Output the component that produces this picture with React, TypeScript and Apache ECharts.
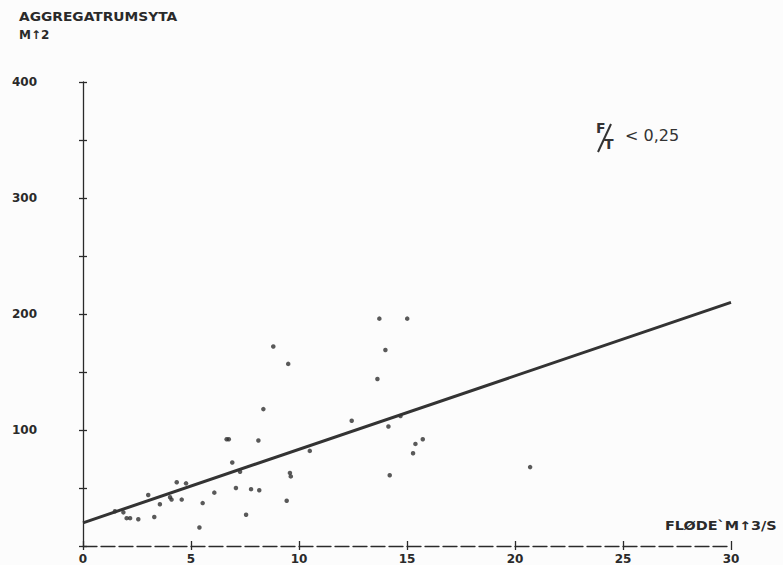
import React, { useEffect, useRef } from "react";
import * as echarts from "echarts";

// Scatter points: flow (m^3/s) vs aggregate room area (m^2)
const flowValues = [
  1.48, 1.87, 2.02, 2.18, 2.56, 3.02, 3.3, 3.56, 4.03, 4.1, 4.34, 4.57, 4.77,
  5.39, 5.54, 6.08, 6.65, 6.75, 6.91, 7.08, 7.27, 7.55, 7.78, 8.12, 8.16, 8.35,
  8.81, 9.43, 9.5, 9.58, 9.62, 10.5, 12.44, 13.63, 13.72, 14.0, 14.14, 14.2,
  14.7, 15.01, 15.28, 15.39, 15.73, 20.7,
];
const areaValues = [
  30, 29, 24, 24, 23, 44, 25, 36, 42, 40, 55, 40, 54,
  16, 37, 46, 92, 92, 72, 50, 64, 27, 49, 91, 48, 118,
  172, 39, 157, 63, 60, 82, 108, 144, 196, 169, 103, 61,
  112, 196, 80, 88, 92, 68,
];

// Regression line end points
const lineX = [0, 30];
const lineY = [20, 210];

// Axis ticks / labels
const xTickLabels = [0, 5, 10, 15, 20, 25, 30];
const yTickLabels = [100, 200, 300, 400];

const INK = "#2a2a2a";
const FONT = "DejaVu Sans";

export default function App() {
  const ref = useRef<HTMLDivElement>(null);

  useEffect(() => {
    if (!ref.current) return;
    const chart = echarts.init(ref.current, undefined, { renderer: "svg" });

    const scatterData = flowValues.map((x, i) => [x, areaValues[i]]);
    const lineData = lineX.map((x, i) => [x, lineY[i]]);

    const grid = { left: 83, right: 52, top: 82, bottom: 19, containLabel: false };

    chart.setOption({
      animation: false,
      backgroundColor: "#fcfcfc",
      grid,
      xAxis: [
        {
          type: "value",
          min: 0,
          max: 30,
          interval: 5,
          position: "bottom",
          splitLine: { show: false },
          axisLine: { show: true, lineStyle: { color: INK, width: 1.3, type: [14, 4] } },
          axisTick: { show: true, inside: false, length: 4, lineStyle: { color: INK, width: 1.3 } },
          axisLabel: {
            show: true,
            margin: 7,
            color: INK,
            fontFamily: FONT,
            fontWeight: "bold",
            fontSize: 12,
            formatter: (v: number) => (xTickLabels.includes(v) ? String(v) : ""),
          },
        },
        {
          type: "value",
          min: 0,
          max: 30,
          interval: 5,
          position: "bottom",
          splitLine: { show: false },
          axisLine: { show: false },
          axisTick: { show: true, inside: true, length: 5, lineStyle: { color: INK, width: 1.3 } },
          axisLabel: { show: false },
        },
      ],
      yAxis: [
        {
          type: "value",
          min: 0,
          max: 400,
          interval: 50,
          position: "left",
          splitLine: { show: false },
          axisLine: { show: true, lineStyle: { color: INK, width: 1.3 } },
          axisTick: { show: true, inside: false, length: 4, lineStyle: { color: INK, width: 1.3 } },
          axisLabel: {
            show: true,
            margin: 46,
            align: "right",
            color: INK,
            fontFamily: FONT,
            fontWeight: "bold",
            fontSize: 12,
            formatter: (v: number) => (yTickLabels.includes(v) ? String(v) : ""),
          },
        },
        {
          type: "value",
          min: 0,
          max: 400,
          interval: 50,
          position: "left",
          splitLine: { show: false },
          axisLine: { show: false },
          axisTick: { show: true, inside: true, length: 4, lineStyle: { color: INK, width: 1.3 } },
          axisLabel: { show: false },
        },
      ],
      series: [
        {
          type: "line",
          data: lineData,
          xAxisIndex: 0,
          yAxisIndex: 0,
          showSymbol: false,
          symbol: "none",
          lineStyle: { color: "#333", width: 3 },
          silent: true,
        },
        {
          type: "scatter",
          data: scatterData,
          xAxisIndex: 0,
          yAxisIndex: 0,
          symbol: "circle",
          symbolSize: 4.5,
          itemStyle: { color: "#303030" },
        },
      ],
      graphic: [
        {
          type: "text",
          left: 19,
          top: 11,
          scaleX: 1.15,
          style: {
            text: "AGGREGATRUMSYTA",
            fill: INK,
            font: `bold 12px "${FONT}"`,
          },
        },
        {
          type: "text",
          left: 19,
          top: 29,
          style: {
            text: "M↑2",
            fill: INK,
            font: `bold 12px "${FONT}"`,
          },
        },
        {
          type: "text",
          x: 665,
          y: 520,
          scaleX: 1.2,
          style: {
            text: "FLØDE`M↑3/S",
            fill: INK,
            font: `bold 12px "${FONT}"`,
          },
        },
        {
          type: "text",
          x: 596,
          y: 121,
          style: { text: "F", fill: "#333", font: `bold 14px "${FONT}"` },
        },
        {
          type: "line",
          shape: { x1: 598, y1: 152, x2: 611, y2: 124 },
          style: { stroke: "#333", lineWidth: 2 },
        },
        {
          type: "text",
          x: 604,
          y: 137,
          style: { text: "T", fill: "#333", font: `bold 14px "${FONT}"` },
        },
        {
          type: "text",
          x: 625,
          y: 127,
          style: { text: "< 0,25", fill: "#333", font: `16px "${FONT}"` },
        },
      ],
    });

    return () => chart.dispose();
  }, []);

  return (
    <div
      ref={ref}
      style={{ position: "fixed", left: 0, top: 0, width: 783, height: 565 }}
    />
  );
}
